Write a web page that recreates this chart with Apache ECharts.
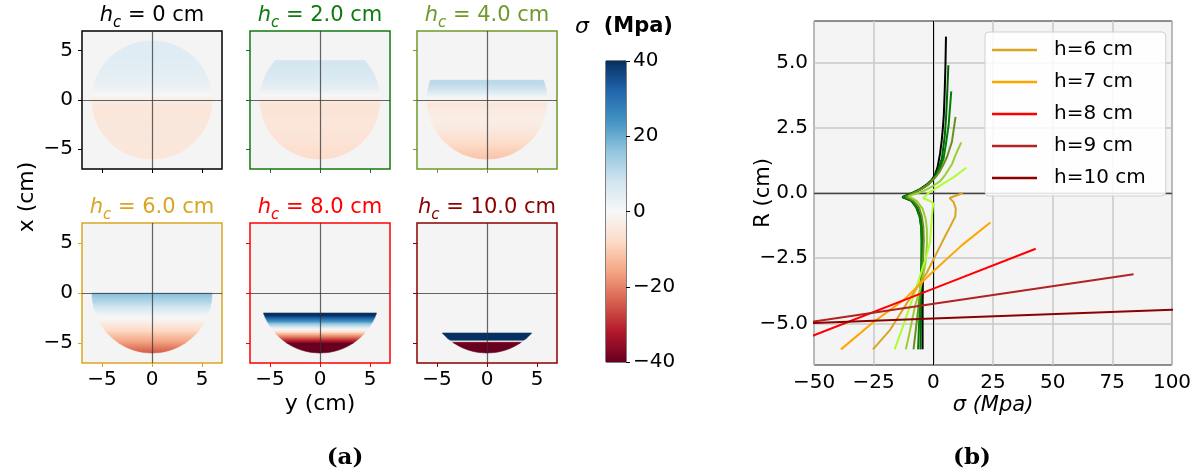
<!DOCTYPE html>
<html><head><meta charset="utf-8">
<script src="https://cdn.jsdelivr.net/npm/echarts@6/dist/echarts.min.js"></script>
<style>html,body{margin:0;padding:0;background:#fff}#c{width:1196px;height:471px}</style>
</head><body><div id="c"></div>
<script>
// ---------------- DATA ----------------
const panelHeights = [0, 2, 4, 6, 8, 10];
const panelTitleValues = ['0', '2.0', '4.0', '6.0', '8.0', '10.0'];
const panelColors = ['#000000', '#0f7a0f', '#6f9a2a', '#DAA520', '#FF0000', '#8B0000'];
const sampleRadius = 6; // cm
const panelTicks = [-5, 0, 5];
const colorbarTicks = [-40, -20, 0, 20, 40];

// stress profile rows (x level in cm, sigma in MPa)
const heatLevels_h0 = [6, 5, 4, 3, 2, 1, 0.5, 0, -0.5, -1, -2, -3, -4, -5, -6];
const heatValues_h0 = [5, 5, 4.7, 4.3, 3.5, 2, 0, -3, -4.5, -5, -4.6, -4.5, -4.5, -4.8, -5];
const heatLevels_h2 = [4, 3, 2, 1, 0.5, 0, -0.5, -1, -2, -3, -4, -5, -6];
const heatValues_h2 = [7.5, 6.8, 5.5, 3, 0.5, -3, -5.5, -5.5, -4.9, -5, -5.5, -6.5, -7.5];
const heatLevels_h4 = [2, 1, 0.5, 0, -0.5, -1, -2, -3, -4, -5, -6];
const heatValues_h4 = [11.7, 7.8, 3, -2, -5, -3.5, -2.7, -4.2, -6.5, -9.3, -11.5];
const heatLevels_h6 = [0, -0.5, -1, -1.5, -2, -2.5, -3, -4, -5, -6];
const heatValues_h6 = [18, 14, 11, 7, 3, 0, -3, -10, -17, -25];
const heatLevels_h8 = [-2, -3, -3.65, -4, -5, -6];
const heatValues_h8 = [47, 19, 0, -10, -38, -65];
const heatLevels_h10 = [-4, -4.5, -4.83, -5, -6];
const heatValues_h10 = [241, 94, 0, -50, -344];

// sigma (MPa) vs R (cm) profiles, pairs [sigma, R]
const lineNames = ['h=0 cm','h=1 cm','h=2 cm','h=3 cm','h=4 cm','h=5 cm','h=6 cm','h=7 cm','h=8 cm','h=9 cm','h=10 cm'];
const lineColors = ['#000000','#006400','#008000','#6B8E23','#9ACD32','#ADFF2F','#DAA520','#FFA500','#FF0000','#B22222','#8B0000'];
const legendNames = ['h=6 cm','h=7 cm','h=8 cm','h=9 cm','h=10 cm'];
const line_h0 = [[5.3,6],[5.1,5],[4.8,4],[4.4,3],[4.0,2.5],[3.5,2],[2.8,1.5],[1.8,1.0],[0.7,0.7],[-0.7,0.5],[-2.7,0.33],[-5.5,0.15],[-8,0.02],[-13,-0.16],[-9,-0.3],[-6.8,-0.55],[-5.3,-0.9],[-4.7,-1.3],[-4.5,-1.8],[-4.4,-2.5],[-4.4,-3.5],[-4.5,-4.5],[-4.5,-5.3],[-4.5,-6]];
const line_h1 = [[6.3,4.9],[5.9,4],[5.4,3],[4.8,2.2],[3.6,1.33],[2.4,1.0],[1.1,0.71],[-0.5,0.5],[-2.4,0.33],[-5.5,0.15],[-8.5,0.02],[-13,-0.16],[-9.2,-0.3],[-7.2,-0.55],[-5.8,-0.9],[-5.1,-1.3],[-4.9,-1.8],[-4.9,-2.5],[-5,-3.5],[-5.1,-4.5],[-5.3,-5.3],[-5.4,-6]];
const line_h2 = [[7.5,3.9],[6.4,2.6],[5.3,1.9],[4.3,1.33],[2.8,0.95],[1.5,0.71],[-0.3,0.5],[-2.0,0.33],[-5,0.15],[-8,0.02],[-12.5,-0.16],[-9,-0.3],[-7,-0.55],[-5.7,-0.9],[-5.1,-1.3],[-4.9,-1.8],[-5,-2.5],[-5.3,-3.5],[-5.7,-4.5],[-6.1,-5.3],[-6.4,-6]];
const line_h3 = [[9.3,2.92],[7.8,1.97],[5.8,1.4],[4.3,1.1],[2.5,0.8],[0.7,0.58],[-1.6,0.38],[-4.1,0.2],[-7,0.05],[-11.5,-0.15],[-8.2,-0.3],[-6,-0.55],[-4.8,-0.9],[-4.2,-1.3],[-4,-1.8],[-4.3,-2.5],[-5.2,-3.5],[-6.4,-4.5],[-7.4,-5.3],[-8.3,-6]];
const line_h4 = [[11.7,1.94],[9.5,1.5],[7.8,1.1],[5,0.7],[2.8,0.45],[-0.5,0.25],[-4.1,0.07],[-10.4,-0.12],[-7,-0.3],[-4.5,-0.6],[-3.2,-1.0],[-2.7,-1.4],[-2.7,-2.0],[-3.3,-2.7],[-5,-3.5],[-7.7,-4.35],[-9.6,-5.2],[-11.5,-6]];
const line_h5 = [[13.8,0.97],[8.4,0.6],[4,0.35],[1.4,0.2],[-2,0],[-4.3,-0.2],[-1.5,-0.3],[0,-0.4],[-0.5,-0.8],[-1,-1.4],[-1.4,-1.9],[-3.5,-2.6],[-6,-3.3],[-8.5,-4],[-12.3,-5],[-16.2,-6]];
const line_h6 = [[12.4,0],[6.8,-0.19],[8.5,-0.35],[9.4,-0.6],[9.2,-0.9],[7.1,-1.28],[5,-1.65],[2.8,-2.05],[-2.8,-3.07],[-11.1,-4.23],[-18.1,-5.25],[-25.3,-6]];
const line_h7 = [[23.9,-1.13],[12,-2.0],[0,-3.0],[-12.4,-4.1],[-25.7,-5.0],[-38.7,-6]];
const line_h8 = [[42.9,-2.14],[0.6,-3.65],[-50,-5.46],[-65,-6]];
const line_h9 = [[83.9,-3.12],[-1.2,-4.27],[-50,-4.93],[-129,-6]];
const line_h10 = [[241,-4],[100,-4.48],[-3,-4.83],[-50,-4.99],[-344,-6]];
const sigmaTicks = [-50, -25, 0, 25, 50, 75, 100];
const rTicks = [-5, -2.5, 0, 2.5, 5];

// --------------- helpers ---------------
const RDBU = ['#67001f','#b2182b','#d6604d','#f4a582','#fddbc7','#f7f7f7','#d1e5f0','#92c5de','#4393c3','#2166ac','#053061'];
function hex2rgb(h){return [parseInt(h.substr(1,2),16),parseInt(h.substr(3,2),16),parseInt(h.substr(5,2),16)];}
const RDBU_RGB = RDBU.map(hex2rgb);
function cmap(v){
  let t=(v+40)/80; t=Math.max(0,Math.min(1,t));
  const p=t*10; const i=Math.min(9,Math.floor(p)); const f=p-i;
  const a=RDBU_RGB[i], b=RDBU_RGB[i+1];
  return 'rgb('+[0,1,2].map(k=>Math.round(a[k]+(b[k]-a[k])*f)).join(',')+')';
}
const minus = v => String(v).replace('-', '\u2212');
const FONT = 'DejaVu Sans';

const heatLevels = [heatLevels_h0, heatLevels_h2, heatLevels_h4, heatLevels_h6, heatLevels_h8, heatLevels_h10];
const heatValues = [heatValues_h0, heatValues_h2, heatValues_h4, heatValues_h6, heatValues_h8, heatValues_h10];
const lineData = [line_h0,line_h1,line_h2,line_h3,line_h4,line_h5,line_h6,line_h7,line_h8,line_h9,line_h10];

function heatRender(params, api){
  const x1=api.value(0), x2=api.value(1), v1=api.value(2), v2=api.value(3);
  const n=20, right=[], left=[];
  for(let k=0;k<=n;k++){
    const xx=x1+(x2-x1)*k/n;
    const hw=Math.sqrt(Math.max(0,sampleRadius*sampleRadius-xx*xx));
    right.push(api.coord([hw,xx])); left.push(api.coord([-hw,xx]));
  }
  const pts=right.concat(left.reverse());
  const stops=[]; for(let k=0;k<=16;k++){const f=k/16; stops.push({offset:f,color:cmap(v1+(v2-v1)*f)});}
  const g=new echarts.graphic.LinearGradient(0,0,0,1,stops);
  return {type:'polygon', shape:{points:pts}, style:{fill:g, stroke:g, lineWidth:0.6}};
}

function colorbarRender(params, api){
  const lo=api.value(1), hi=api.value(2);
  const p0=api.coord([0,hi]), p1=api.coord([1,lo]);
  const stops=[]; for(let k=0;k<=20;k++){const f=k/20; stops.push({offset:f,color:cmap(hi+(lo-hi)*f)});}
  return {type:'rect', shape:{x:p0[0],y:p0[1],width:p1[0]-p0[0],height:p1[1]-p0[1]}, style:{fill:new echarts.graphic.LinearGradient(0,0,0,1,stops)}};
}

// --------------- layout ---------------
const panelBoxes = [[82,31,140,138],[250,31,140,138],[417,31,140,138],[82,223,140,140],[250,223,140,140],[417,223,140,140]];
const grid=[], xAxis=[], yAxis=[], series=[], graphic=[];
panelBoxes.forEach((b,i)=>{
  const col=panelColors[i];
  grid.push({left:b[0],top:b[1],width:b[2],height:b[3],show:true,borderColor:col,borderWidth:1.5,backgroundColor:'#f4f4f4'});
  xAxis.push({gridIndex:i,type:'value',min:-7,max:7,position:'bottom',axisLine:{show:false,onZero:false},splitLine:{show:false},
    axisTick:{show:true,customValues:panelTicks,length:4,lineStyle:{color:col,width:1}},
    axisLabel:{show:i>=3,customValues:panelTicks,formatter:minus,fontSize:20,fontFamily:FONT,color:'#000',margin:7}});
  yAxis.push({gridIndex:i,type:'value',min:-7,max:7,position:'left',axisLine:{show:false,onZero:false},splitLine:{show:false},
    axisTick:{show:true,customValues:panelTicks,length:4,lineStyle:{color:col,width:1}},
    axisLabel:{show:(i%3)===0,customValues:panelTicks,formatter:minus,fontSize:20,fontFamily:FONT,color:'#000',margin:9}});
  const L=heatLevels[i], V=heatValues[i];
  series.push({type:'custom',xAxisIndex:i,yAxisIndex:i,silent:true,clip:true,renderItem:heatRender,
    data:L.slice(0,-1).map((l,k)=>[l,L[k+1],V[k],V[k+1]]),
    markLine:{silent:true,symbol:'none',animation:false,label:{show:false},
      lineStyle:{color:'#333',width:1.2,type:'solid',opacity:0.75},data:[{xAxis:0},{yAxis:0}]}});
  graphic.push({type:'text',x:b[0]+b[2]/2,y:b[1]-13,
    style:{text:'{i|h}{s|c}{n| = '+panelTitleValues[i]+' cm}',align:'center',verticalAlign:'middle',fill:col,
      rich:{i:{fontFamily:FONT,fontStyle:'italic',fontSize:21,fill:col,verticalAlign:'bottom',padding:[0,0,5,0],lineHeight:26},
            s:{fontFamily:FONT,fontStyle:'italic',fontSize:15,fill:col,verticalAlign:'bottom',lineHeight:26},
            n:{fontFamily:FONT,fontSize:21,fill:col,verticalAlign:'bottom',padding:[0,0,5,0],lineHeight:26}}}});
});

// colorbar (grid 6)
grid.push({left:606,top:61,width:20,height:301,show:true,borderColor:'#000',borderWidth:1});
xAxis.push({gridIndex:6,type:'value',min:0,max:1,show:false});
yAxis.push({gridIndex:6,type:'value',min:-40,max:40,interval:20,position:'right',axisLine:{show:false,onZero:false},splitLine:{show:false},
  axisTick:{show:true,length:4,lineStyle:{color:'#000'}},axisLabel:{formatter:minus,fontSize:20,fontFamily:FONT,color:'#000',margin:7}});
series.push({type:'custom',xAxisIndex:6,yAxisIndex:6,silent:true,renderItem:colorbarRender,
  data:[[0,colorbarTicks[0],colorbarTicks[colorbarTicks.length-1]]]});

// right chart (grid 7)
grid.push({left:814,top:21,width:358,height:344,show:true,borderColor:'#222',borderWidth:1,backgroundColor:'#f4f4f4'});
xAxis.push({gridIndex:7,type:'value',min:sigmaTicks[0],max:sigmaTicks[sigmaTicks.length-1],interval:25,position:'bottom',axisLine:{show:false,onZero:false},axisTick:{show:false},
  splitLine:{show:true,lineStyle:{color:'#c8c8c8',width:1.5}},
  axisLabel:{formatter:minus,fontSize:20,fontFamily:FONT,color:'#000',margin:8}});
yAxis.push({gridIndex:7,type:'value',min:-6.6,max:6.6,position:'left',axisLine:{show:false,onZero:false},axisTick:{show:false},splitLine:{show:false},
  axisLabel:{customValues:rTicks,formatter:v=>minus(Number(v).toFixed(1)),fontSize:20,fontFamily:FONT,color:'#000',margin:6}});
lineData.forEach((d,i)=>{
  const s={type:'line',name:lineNames[i],xAxisIndex:7,yAxisIndex:7,data:d,symbol:'none',showSymbol:false,clip:true,
    lineStyle:{width:2,color:lineColors[i]},itemStyle:{color:lineColors[i]},emphasis:{disabled:true},z:3};
  if(i===0){
    s.markLine={silent:true,symbol:'none',z:1,animation:false,label:{show:false},
      data: rTicks.map(v=>({yAxis:v,lineStyle:{color:'#c8c8c8',width:1.5,type:'solid'}}))
        .concat([{xAxis:0,lineStyle:{color:'#000',width:1,type:'solid'}},{yAxis:0,lineStyle:{color:'#444',width:1.3,type:'solid'}}])};
  }
  series.push(s);
});

// texts
const txt=(x,y,text,extra)=>({type:'text',x:x,y:y,style:Object.assign({text:text,align:'center',verticalAlign:'middle',fontFamily:FONT,fontSize:22,fill:'#000'},extra||{})});
graphic.push({type:'text',x:27,y:197,rotation:Math.PI/2,style:{text:'x (cm)',align:'center',verticalAlign:'middle',fontFamily:FONT,fontSize:22,fill:'#000'}});
graphic.push(txt(320,404,'y (cm)'));
graphic.push({type:'text',x:764,y:193,rotation:Math.PI/2,style:{text:'R (cm)',align:'center',verticalAlign:'middle',fontFamily:FONT,fontSize:21,fill:'#000'}});
graphic.push(txt(993,406,'\u03c3 (Mpa)',{fontStyle:'italic',fontSize:21}));
graphic.push({type:'text',x:624,y:27,style:{text:'{g|\u03c3}{b|  (Mpa)}',align:'center',verticalAlign:'middle',
  rich:{g:{fontFamily:FONT,fontStyle:'italic',fontSize:22,fill:'#000'},b:{fontFamily:FONT,fontWeight:'bold',fontSize:21,fill:'#000'}}}});
graphic.push(txt(345,458,'(a)',{fontFamily:'DejaVu Serif',fontWeight:'bold',fontSize:23}));
graphic.push(txt(972,458,'(b)',{fontFamily:'DejaVu Serif',fontWeight:'bold',fontSize:23}));

const chart=echarts.init(document.getElementById('c'),null,{renderer:'canvas'});
chart.setOption({
  animation:false,
  backgroundColor:'#ffffff',
  grid:grid, xAxis:xAxis, yAxis:yAxis, series:series, graphic:graphic,
  legend:{data:legendNames,orient:'vertical',left:985,top:32,icon:'rect',itemWidth:45,itemHeight:2.5,itemGap:12,
    padding:[8,20,8,7],borderColor:'#d0d0d0',borderWidth:1,borderRadius:4,backgroundColor:'rgba(255,255,255,0.85)',
    textStyle:{fontFamily:FONT,fontSize:20,color:'#000',lineHeight:20,padding:[0,0,0,12]},selectedMode:false}
});
</script></body></html>
